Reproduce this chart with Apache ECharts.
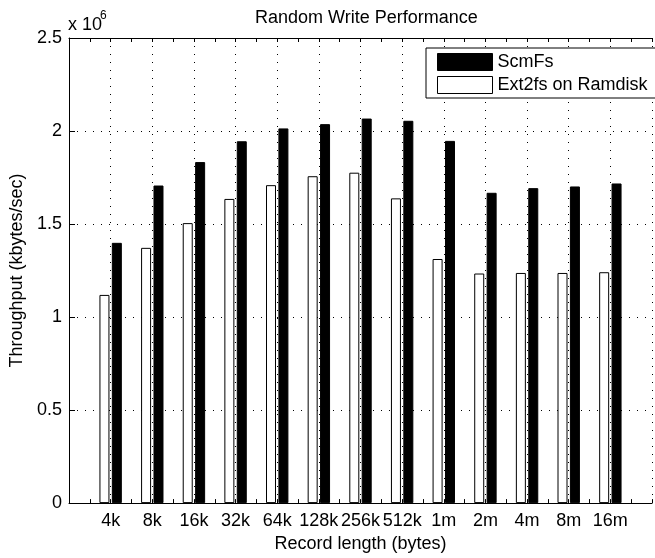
<!DOCTYPE html>
<html>
<head>
<meta charset="utf-8">
<script src="https://cdn.jsdelivr.net/npm/echarts@6/dist/echarts.min.js"></script>
<style>
html,body{margin:0;padding:0;background:#fff;}
#chart{width:655px;height:558px;}
</style>
</head>
<body>
<div id="chart"></div>
<script>
// Record lengths (x categories)
var categories = ['4k','8k','16k','32k','64k','128k','256k','512k','1m','2m','4m','8m','16m'];
// Throughput (kbytes/sec)
var scmfs = [1399000,1707000,1833000,1945000,2014000,2037000,2067000,2055000,1947000,1668000,1693000,1702000,1718000];
var ext2fs = [1119000,1372000,1505000,1635000,1709000,1757000,1776000,1638000,1312000,1234000,1237000,1237000,1241000];
// y tick labels
var yTicks = [0, 500000, 1000000, 1500000, 2000000, 2500000];
var yTickLabels = ['0','0.5','1','1.5','2','2.5'];

var FONT = "'Liberation Sans', Arial, Helvetica, sans-serif";
var axisData = [''].concat(categories).concat(['']);
function pad(arr){ return [null].concat(arr).concat([null]); }

var chart = echarts.init(document.getElementById('chart'), null, {renderer:'canvas'});
var dotted = {show:true, lineStyle:{color:'#000', width:1, type:[1,7]}};
var tickAxisBase = {
  type:'value', min:0, max:14, interval:0.5, gridIndex:0,
  axisLabel:{show:false}, splitLine:{show:false},
  axisTick:{show:true, inside:true, length:4, lineStyle:{color:'#000'}}
};
chart.setOption({
  animation:false,
  backgroundColor:'#fff',
  textStyle:{fontFamily:FONT},
  title:[
    {text:'Random Write Performance', left:255, top:9, padding:0,
     textStyle:{fontFamily:FONT, fontSize:18, fontWeight:'normal', color:'#000'}},
    {text:'x 10', left:68, top:16, padding:0,
     textStyle:{fontFamily:FONT, fontSize:18, fontWeight:'normal', color:'#000'}},
    {text:'6', left:100, top:10, padding:0,
     textStyle:{fontFamily:FONT, fontSize:12, fontWeight:'normal', color:'#000'}}
  ],
  legend:{
    orient:'vertical', left:426, top:48,
    padding:[5,12,4,11], itemGap:5, itemWidth:55, itemHeight:17, itemTextGap:5,
    borderColor:'#000', borderWidth:1, borderRadius:0, backgroundColor:'#fff',
    icon:'rect',
    textStyle:{fontFamily:FONT, fontSize:18, color:'#000'},
    data:[
      {name:'ScmFs', itemStyle:{color:'#000', borderColor:'#000', borderWidth:1}},
      {name:'Ext2fs on Ramdisk', itemStyle:{color:'#fff', borderColor:'#000', borderWidth:1}}
    ]
  },
  grid:{left:69, top:38, width:595, height:470, containLabel:false},
  xAxis:[
    {type:'category', data:axisData, boundaryGap:false, position:'bottom',
     axisLine:{show:true, lineStyle:{color:'#000', width:1}},
     axisTick:{show:false},
     axisLabel:{interval:0, margin:9, fontFamily:FONT, fontSize:18, color:'#000'},
     splitLine:{show:true, interval:0, lineStyle:{color:'#000', width:1, type:[1,7]}},
     name:'Record length (bytes)', nameLocation:'middle', nameGap:31,
     nameTextStyle:{fontFamily:FONT, fontSize:18, color:'#000'}},
    Object.assign({}, tickAxisBase, {position:'bottom', axisLine:{show:false}}),
    Object.assign({}, tickAxisBase, {position:'top', axisLine:{show:true, lineStyle:{color:'#000', width:1}}})
  ],
  yAxis:[
    {type:'value', min:yTicks[0], max:yTicks[yTicks.length-1], interval:500000,
     axisLine:{show:true, lineStyle:{color:'#000', width:1}},
     axisTick:{show:true, inside:true, length:6, lineStyle:{color:'#000'}},
     axisLabel:{margin:7, fontFamily:FONT, fontSize:18, color:'#000',
       formatter:function(v){ var i = yTicks.indexOf(v); return i>=0 ? yTickLabels[i] : ''; }},
     splitLine:dotted,
     name:'Throughput (kbytes/sec)', nameLocation:'middle', nameGap:36, nameRotate:90,
     nameTextStyle:{fontFamily:FONT, fontSize:18, color:'#000'}}
  ],
  series:[
    {name:'Ext2fs on Ramdisk', type:'bar', xAxisIndex:0, yAxisIndex:0,
     data:pad(ext2fs), barWidth:10, barGap:'24%',
     itemStyle:{color:'#fff', borderColor:'#000', borderWidth:1}},
    {name:'ScmFs', type:'bar', xAxisIndex:0, yAxisIndex:0,
     data:pad(scmfs), barWidth:10, barGap:'24%',
     itemStyle:{color:'#000', borderColor:'#000', borderWidth:1}}
  ]
});
</script>
</body>
</html>
